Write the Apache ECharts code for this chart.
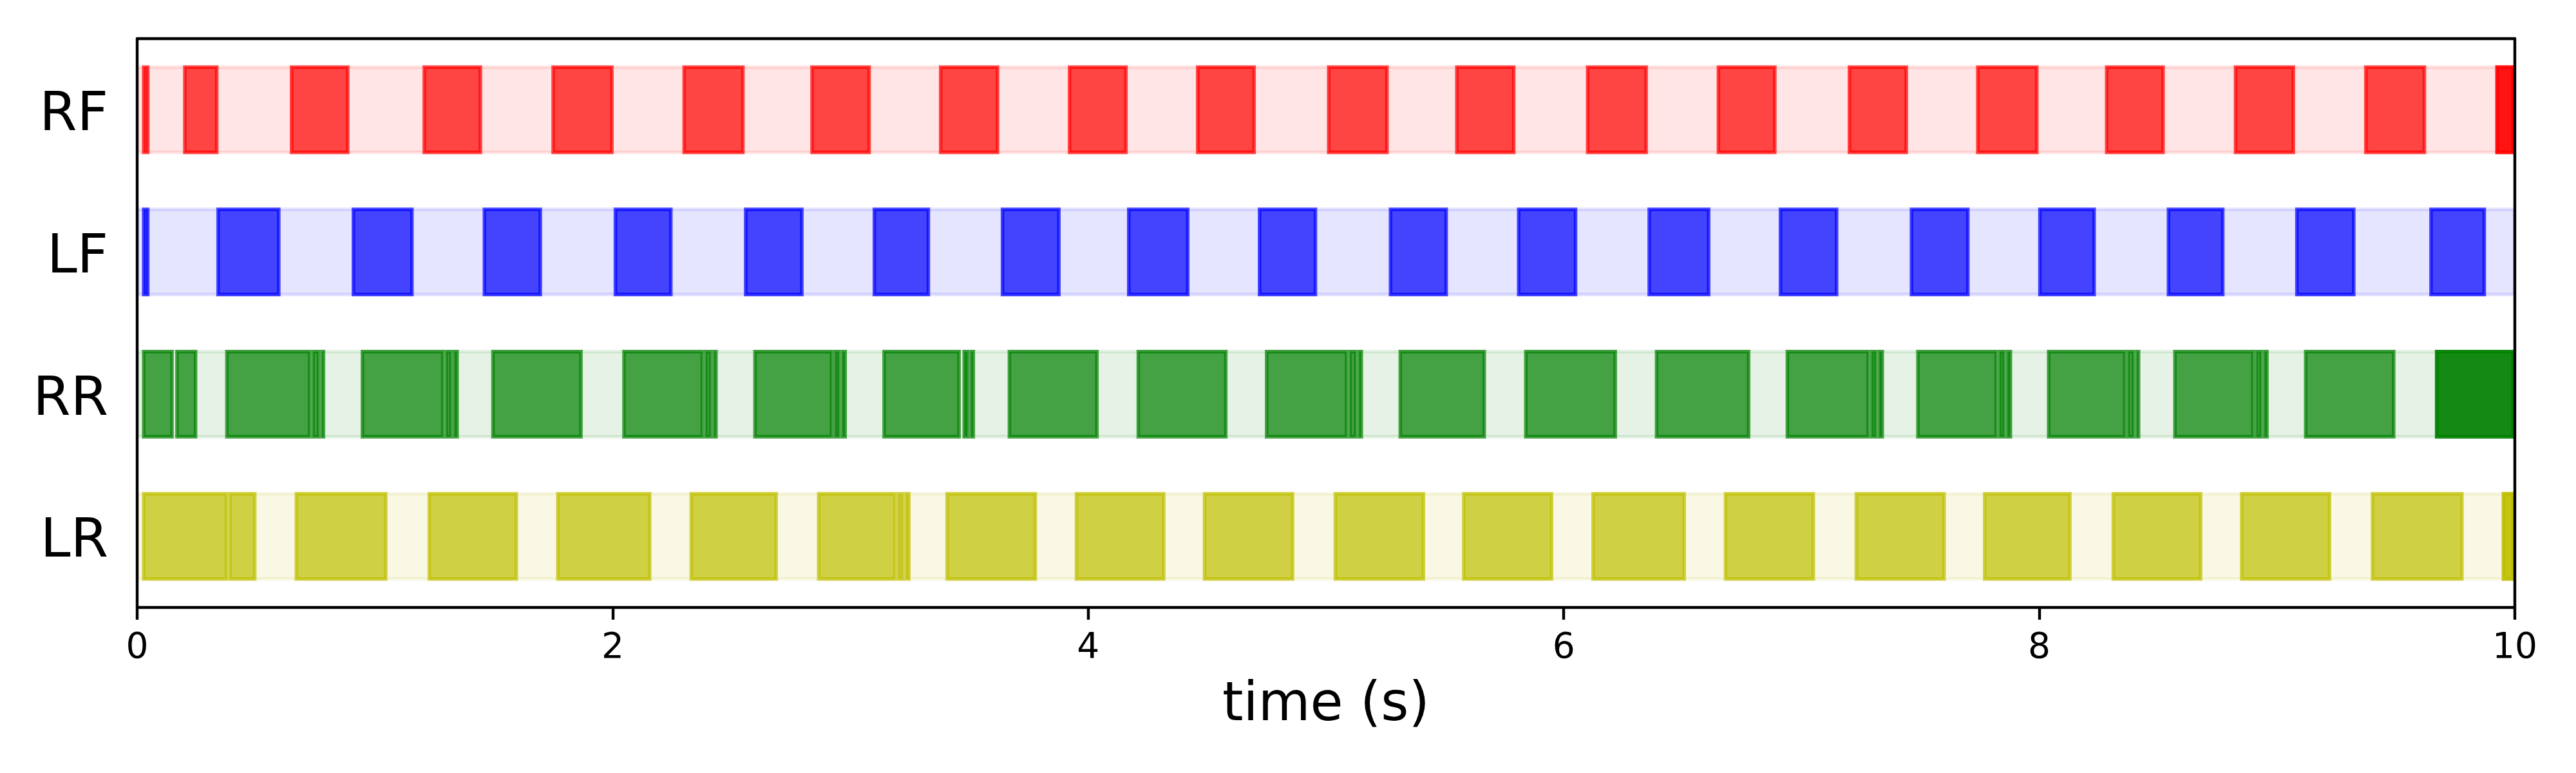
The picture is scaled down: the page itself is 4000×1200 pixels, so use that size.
<!DOCTYPE html>
<html>
<head>
<meta charset="utf-8">
<script src="https://cdn.jsdelivr.net/npm/echarts@6/dist/echarts.min.js"></script>
<style>html,body{margin:0;padding:0;background:#fff}#chart{width:4000px;height:1200px}</style>
</head>
<body>
<div id="chart"></div>
<script>
// ---------- data ----------
const limbs = ['RF', 'LF', 'RR', 'LR'];
const xTicks = [0, 2, 4, 6, 8, 10];
const timeRange = [0, 10];

// stance intervals [start, end] in seconds (the final segment of RF, RR, LR appears drawn twice)
const rfStance = [
  [0.020, 0.052], [0.193, 0.342], [0.642, 0.893], [1.200, 1.451], [1.742, 2.004],
  [2.293, 2.555], [2.831, 3.086], [3.372, 3.626], [3.914, 4.166], [4.453, 4.705],
  [5.004, 5.264], [5.543, 5.797], [6.093, 6.354], [6.643, 6.895], [7.194, 7.448],
  [7.734, 7.997], [8.276, 8.528], [8.818, 9.076], [9.366, 9.627], [9.918, 10.0],
  [9.918, 10.0]
];
const lfStance = [
  [0.020, 0.052], [0.333, 0.603], [0.902, 1.163], [1.453, 1.703], [2.004, 2.252],
  [2.552, 2.803], [3.093, 3.335], [3.632, 3.884], [4.163, 4.426], [4.713, 4.963],
  [5.264, 5.513], [5.803, 6.057], [6.352, 6.617], [6.904, 7.155], [7.455, 7.707],
  [7.995, 8.238], [8.536, 8.779], [9.076, 9.330], [9.640, 9.879]
];
const rrStance = [
  [0.020, 0.154], [0.160, 0.253], [0.370, 0.733], [0.733, 0.770], [0.770, 0.791],
  [0.940, 1.293], [1.293, 1.327], [1.327, 1.353], [1.489, 1.874], [2.040, 2.384],
  [2.384, 2.419], [2.419, 2.442], [2.591, 2.928], [2.928, 2.959], [2.959, 2.985],
  [3.134, 3.464], [3.471, 3.500], [3.500, 3.524], [3.661, 4.044], [4.203, 4.586],
  [4.743, 5.094], [5.094, 5.132], [5.132, 5.156], [5.305, 5.673], [5.833, 6.224],
  [6.383, 6.785], [6.933, 7.288], [7.288, 7.320], [7.320, 7.347], [7.482, 7.826],
  [7.826, 7.859], [7.859, 7.886], [8.032, 8.367], [8.367, 8.403], [8.403, 8.425],
  [8.563, 8.906], [8.906, 8.940], [8.940, 8.965], [9.113, 9.498], [9.664, 10.0],
  [9.664, 10.0]
];
const lrStance = [
  [0.020, 0.383], [0.383, 0.502], [0.662, 1.053], [1.221, 1.602], [1.762, 2.163],
  [2.323, 2.695], [2.859, 3.194], [3.194, 3.227], [3.227, 3.253], [3.399, 3.785],
  [3.943, 4.325], [4.482, 4.867], [5.032, 5.417], [5.572, 5.956], [6.116, 6.514],
  [6.673, 7.057], [7.223, 7.607], [7.763, 8.136], [8.304, 8.686], [8.844, 9.228],
  [9.394, 9.785], [9.945, 10.0], [9.945, 10.0]
];
const stanceByLimb = [rfStance, lfStance, rrStance, lrStance];

// ---------- styles ----------
const limbRGB = ['255,0,0', '0,0,255', '0,128,0', '191,191,0'];
const BAR_FRAC = 0.6;
const LW = 5.5;
const FONT = 'DejaVu Sans';

function makeRender(rgb, alpha, inset) {
  return function (params, api) {
    const row = api.value(2);
    const p0 = api.coord([api.value(0), row]);
    const p1 = api.coord([api.value(1), row]);
    const h = api.size([0, 1])[1] * BAR_FRAC;
    let x0 = p0[0], x1 = p1[0];
    if (inset) { x0 += LW / 2; x1 -= LW / 2; }
    if (x1 - x0 < 0.5) { const m = (x0 + x1) / 2; x0 = m - 0.25; x1 = m + 0.25; }
    return {
      type: 'rect',
      shape: { x: x0, y: p0[1] - h / 2, width: x1 - x0, height: h },
      style: {
        fill: 'rgba(' + rgb + ',' + alpha + ')',
        stroke: 'rgba(' + rgb + ',' + alpha + ')',
        lineWidth: LW
      }
    };
  };
}

const series = [];
limbs.forEach(function (name, i) {
  series.push({
    type: 'custom', name: name + ' band', clip: true, z: 1,
    renderItem: makeRender(limbRGB[i], 0.1, false),
    encode: { x: [0, 1], y: 2 },
    data: [[timeRange[0], timeRange[1], i]],
    silent: true
  });
});
limbs.forEach(function (name, i) {
  series.push({
    type: 'custom', name: name, clip: true, z: 2,
    renderItem: makeRender(limbRGB[i], 0.7, true),
    encode: { x: [0, 1], y: 2 },
    data: stanceByLimb[i].map(function (s) { return [s[0], s[1], i]; }),
    silent: true
  });
});

const axisLineStyle = { color: '#000', width: 4.4 };

const chart = echarts.init(document.getElementById('chart'), null, { renderer: 'canvas' });
chart.setOption({
  animation: false,
  backgroundColor: '#fff',
  grid: { left: 213, right: 95, top: 60, bottom: 257, containLabel: false },
  xAxis: [{
    type: 'value', min: timeRange[0], max: timeRange[1], interval: 2, z: 10,
    axisLine: { show: true, onZero: false, lineStyle: axisLineStyle },
    axisTick: { show: true, length: 19, lineStyle: axisLineStyle },
    axisLabel: {
      fontSize: 55, color: '#000', fontFamily: FONT, margin: 36,
      formatter: function (v) { return xTicks.indexOf(v) >= 0 ? String(v) : ''; }
    },
    splitLine: { show: false },
    name: 'time (s)', nameLocation: 'middle', nameGap: 112,
    nameTextStyle: { fontSize: 83, color: '#000', fontFamily: FONT }
  }, {
    type: 'value', position: 'top', min: timeRange[0], max: timeRange[1], z: 10,
    axisLine: { show: true, onZero: false, lineStyle: axisLineStyle },
    axisTick: { show: false }, axisLabel: { show: false }, splitLine: { show: false }
  }],
  yAxis: [{
    type: 'category', data: limbs, inverse: true, z: 10,
    axisLine: { show: true, onZero: false, lineStyle: axisLineStyle },
    axisTick: { show: false },
    axisLabel: { fontSize: 84, color: '#000', fontFamily: FONT, margin: 45,
                 verticalAlign: 'top', lineHeight: 20 },
    splitLine: { show: false }
  }, {
    type: 'category', data: limbs, inverse: true, position: 'right', z: 10,
    axisLine: { show: true, onZero: false, lineStyle: axisLineStyle },
    axisTick: { show: false }, axisLabel: { show: false }, splitLine: { show: false }
  }],
  series: series
});
</script>
</body>
</html>
